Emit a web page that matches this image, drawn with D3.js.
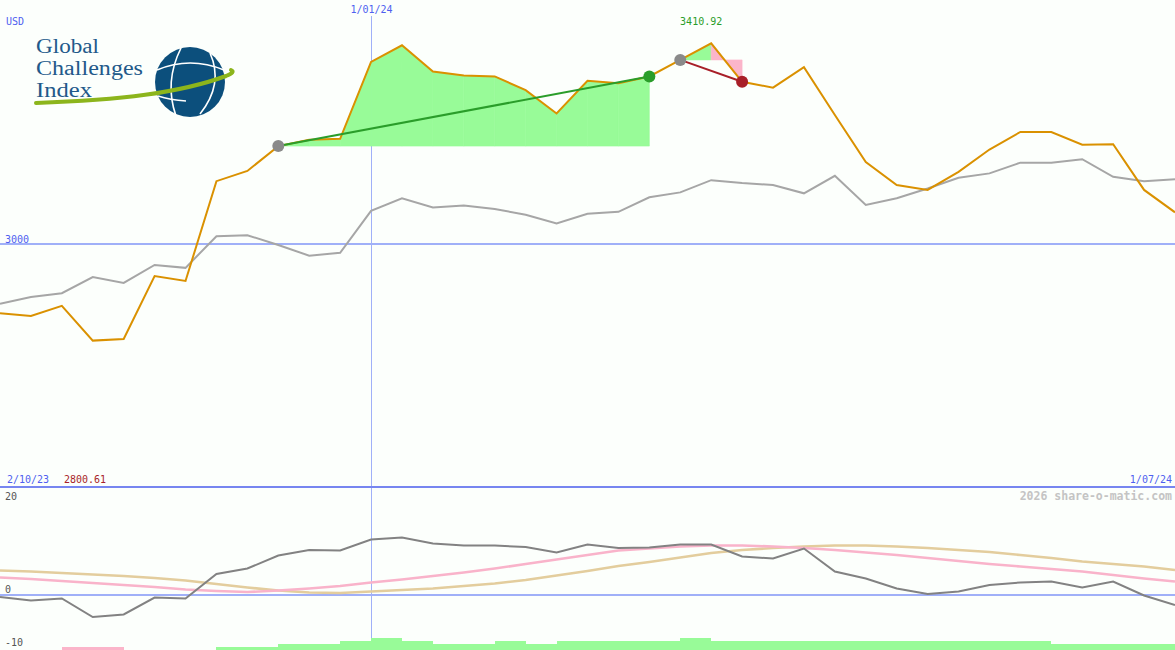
<!DOCTYPE html>
<html><head><meta charset="utf-8">
<script src="https://cdn.jsdelivr.net/npm/d3@7"></script>
<style>html,body{margin:0;padding:0;background:#fcfffc;overflow:hidden}</style>
</head><body><svg id="c" width="1175" height="650"></svg>
<script>
// ---------- data ----------
const dates = ["2023-10-09","2023-10-16","2023-10-23","2023-10-30","2023-11-06","2023-11-13","2023-11-20","2023-11-27",
"2023-12-04","2023-12-11","2023-12-18","2023-12-25","2024-01-01","2024-01-08","2024-01-15","2024-01-22","2024-01-29",
"2024-02-05","2024-02-12","2024-02-19","2024-02-26","2024-03-04","2024-03-11","2024-03-18","2024-03-25","2024-04-01",
"2024-04-08","2024-04-15","2024-04-22","2024-04-29","2024-05-06","2024-05-13","2024-05-20","2024-05-27","2024-06-03",
"2024-06-10","2024-06-17","2024-06-24","2024-07-01"];
const price = [2857,2851,2872,2800.61,2804,2933,2923,3128,3149,3200,3213,3215,3373,3407,3353,3345,3343,3315,3267,3334,
3329,3343,3377,3410.92,3332,3320,3362,3264,3167,3120,3110,3147,3193,3229,3229,3203,3204,3110,3064];
const compare = [2876,2890,2898,2931,2919,2956,2950,3015,3017,2997,2975,2981,3067,3093,3074,3078,3071,3059,3041,3061,
3065,3095,3105,3130,3124,3120,3103,3139,3079,3093,3113,3135,3144,3166,3166,3173,3137,3128,3132];
const momentum = [-0.4,-1.1,-0.7,-4.4,-3.9,-0.5,-0.7,4.2,5.3,7.9,9.0,8.9,11.1,11.5,10.3,9.9,9.9,9.6,8.5,10.1,9.4,9.5,
10.1,10.1,7.7,7.3,9.3,4.7,3.3,1.3,0.2,0.7,2.0,2.5,2.7,1.5,2.7,-0.1,-2.0];
const maFast = [3.5,3.2,2.8,2.4,2.0,1.6,1.1,0.8,0.6,0.9,1.3,1.8,2.5,3.1,3.8,4.5,5.3,6.2,7.1,8.0,8.9,9.3,9.7,9.9,9.9,
9.7,9.4,9.0,8.5,8.0,7.4,6.8,6.2,5.7,5.2,4.7,4.0,3.3,2.7];
const maSlow = [4.9,4.7,4.4,4.1,3.8,3.4,2.9,2.2,1.5,0.9,0.5,0.4,0.7,1.0,1.3,1.8,2.3,3.0,3.9,4.8,5.8,6.6,7.5,8.4,9.0,
9.4,9.7,9.9,9.9,9.7,9.4,9.0,8.6,8.0,7.4,6.7,6.2,5.7,5.0];
const barLevels = [0,0,-1,-1,0,0,0,1,1,2,2,3,4,3,2,2,3,2,3,3,3,3,4,3,3,3,3,3,3,3,3,3,3,3,2,2,2,2];
const tradeEntries = [9,22];
const tradeExits = [21,24];
const xTickLabels = ["2/10/23","1/01/24","1/07/24"];
const xTickDates = ["2023-10-02","2024-01-01","2024-07-01"];
const yGridValues = [3000];
const lowerTickValues = [20,0,-10];
const logoWords = ["Global","Challenges","Index"];
const logoWordWidths = [63,107,56];

// ---------- setup ----------
const W = 1175, H = 650;
const parse = d3.utcParse("%Y-%m-%d");
const dt = dates.map(parse);
const svg = d3.select("#c");
svg.append("rect").attr("width",W).attr("height",H).attr("fill","#fcfffc");

const x = d3.scaleUtc().domain([dt[0], dt[dt.length-1]]).range([0, W]);
const y = d3.scaleLinear().domain([2500, 3500]).range([487, 0]);
const y2 = d3.scaleLinear().domain([-11, 20]).range([650, 495]);
const yBar = d3.scaleLinear().domain([0, 4]).range([650, 638]);

const mono = "DejaVu Sans Mono, monospace";
const blue = "#4f5ff0";
const gridBlue = "#a0b0f8";

// ---------- grid ----------
yGridValues.forEach(v => {
  svg.append("line").attr("x1",0).attr("x2",W).attr("y1",Math.round(y(v))).attr("y2",Math.round(y(v)))
    .attr("stroke",gridBlue).attr("stroke-width",2).attr("shape-rendering","crispEdges");
  svg.append("text").attr("x",5).attr("y",Math.round(y(v))-1).text(v).attr("font-family",mono)
    .attr("font-size",10).attr("fill",blue);
});
const xMid = Math.round(x(parse(xTickDates[1]))) + 0.5;
svg.append("line").attr("x1",xMid).attr("x2",xMid).attr("y1",16).attr("y2",H)
  .attr("stroke",gridBlue).attr("stroke-width",1).attr("shape-rendering","crispEdges");

// ---------- trade areas ----------
const seg = [];
tradeEntries.forEach((e,k) => {
  const base = price[e];
  for (let i = e; i < tradeExits[k]; i++) seg.push({i, base, up: price[i+1] >= base});
});
const area = d3.area().x(d => x(d.d)).y0(d => y(d.b)).y1(d => y(d.v));
seg.forEach(s => {
  svg.append("path").datum([{d:dt[s.i],v:price[s.i],b:s.base},{d:dt[s.i+1],v:price[s.i+1],b:s.base}])
    .attr("d", area).attr("fill", s.up ? "#98fb98" : "#fbb5ca").attr("stroke", s.up ? "#98fb98" : "#fbb5ca")
    .attr("stroke-width",0.6);
});

// ---------- top lines ----------
const line = d3.line().x((d,i) => x(dt[i])).y(d => y(d));
svg.append("path").datum(compare).attr("d",line).attr("fill","none").attr("stroke","#a6a6a6").attr("stroke-width",2);
svg.append("path").datum(price).attr("d",line).attr("fill","none").attr("stroke","#da9100").attr("stroke-width",2);

// ---------- trade lines & markers ----------
tradeEntries.forEach((e,k) => {
  const xI = tradeExits[k];
  const win = price[xI] >= price[e];
  const col = win ? "#2a9d2a" : "#a81f28";
  svg.append("line").attr("x1",x(dt[e])).attr("y1",y(price[e])).attr("x2",x(dt[xI])).attr("y2",y(price[xI]))
    .attr("stroke",col).attr("stroke-width",2);
  svg.append("circle").attr("cx",x(dt[e])).attr("cy",y(price[e])).attr("r",6).attr("fill","#8a8a8a");
  svg.append("circle").attr("cx",x(dt[xI])).attr("cy",y(price[xI])).attr("r",6).attr("fill",col);
});

// max / min labels
const maxI = d3.maxIndex(price);
svg.append("text").attr("x",x(dt[maxI])-10).attr("y",25).attr("text-anchor","middle")
  .text(d3.max(price).toFixed(2)).attr("font-family",mono).attr("font-size",10).attr("fill","#2a9d2a");
svg.append("text").attr("x",64).attr("y",482.5).text(d3.min(price).toFixed(2))
  .attr("font-family",mono).attr("font-size",10).attr("fill","#a81f28");

// top labels
svg.append("text").attr("x",6).attr("y",24.5).text("USD").attr("font-family",mono).attr("font-size",10).attr("fill",blue);
svg.append("text").attr("x",xMid).attr("y",13).attr("text-anchor","middle").text(xTickLabels[1])
  .attr("font-family",mono).attr("font-size",10).attr("fill",blue);
svg.append("text").attr("x",7).attr("y",482.5).text(xTickLabels[0]).attr("font-family",mono).attr("font-size",10).attr("fill",blue);
svg.append("text").attr("x",1172).attr("y",482.5).attr("text-anchor","end").text(xTickLabels[2])
  .attr("font-family",mono).attr("font-size",10).attr("fill",blue);

// panel divider
svg.append("line").attr("x1",0).attr("x2",W).attr("y1",487).attr("y2",487).attr("stroke","#7786f0")
  .attr("stroke-width",2).attr("shape-rendering","crispEdges");
svg.append("text").attr("x",1172).attr("y",500).attr("text-anchor","end").text("2026 share-o-matic.com")
  .attr("font-family",mono).attr("font-size",11.5).attr("font-weight","bold").attr("fill","#c4c4c4");

// ---------- lower panel ----------
svg.append("line").attr("x1",0).attr("x2",W).attr("y1",y2(0)).attr("y2",y2(0)).attr("stroke",gridBlue)
  .attr("stroke-width",2).attr("shape-rendering","crispEdges");
lowerTickValues.forEach(v => {
  svg.append("text").attr("x",5).attr("y",v===0?592.5:(v>0?499.5:645.5)).text(v)
    .attr("font-family",mono).attr("font-size",10).attr("fill","#555");
});
// bars
svg.selectAll("rect.bar").data(barLevels.map((v,i)=>({v,i})).filter(d=>d.v!==0)).join("rect")
  .attr("class","bar").attr("x",d=>x(dt[d.i])).attr("width",d=>x(dt[d.i+1])-x(dt[d.i]))
  .attr("y",d=>yBar(Math.abs(d.v))).attr("height",d=>yBar(0)-yBar(Math.abs(d.v)))
  .attr("fill",d=>d.v>0?"#98fb98":"#fbb5ca").attr("shape-rendering","crispEdges");
const line2 = d3.line().x((d,i)=>x(dt[i])).y(d=>y2(d));
svg.append("path").datum(maSlow).attr("d",line2).attr("fill","none").attr("stroke","#e3cd9d").attr("stroke-width",2.6);
svg.append("path").datum(maFast).attr("d",line2).attr("fill","none").attr("stroke","#f9b3ca").attr("stroke-width",2.6);
svg.append("path").datum(momentum).attr("d",line2).attr("fill","none").attr("stroke","#828282").attr("stroke-width",2);

// ---------- logo ----------
const logo = svg.append("g");
logo.selectAll("text").data(logoWords).join("text").attr("x",36).attr("y",(d,i)=>52.5+i*22.3).text(d=>d)
  .attr("font-family","Liberation Serif, serif").attr("font-size",20)
  .attr("textLength",(d,i)=>logoWordWidths[i]).attr("lengthAdjust","spacingAndGlyphs").attr("fill","#22598a");
logo.append("circle").attr("cx",190).attr("cy",82).attr("r",35).attr("fill","#0c4f7c");
[["M181,48 Q164,82 176,116"],["M210,53 Q224,84 200,114"],["M157,70 Q190,56 224,70"],["M158,96 Q170,100 186,101"]]
  .forEach(p => logo.append("path").attr("d",p[0]).attr("fill","none").attr("stroke","#fff").attr("stroke-width",1.6));
logo.append("path").attr("d","M36,103 C120,100 180,93 226,76 Q236,72 231,70").attr("fill","none")
  .attr("stroke","#8cb51c").attr("stroke-width",4).attr("stroke-linecap","round");
</script></body></html>
